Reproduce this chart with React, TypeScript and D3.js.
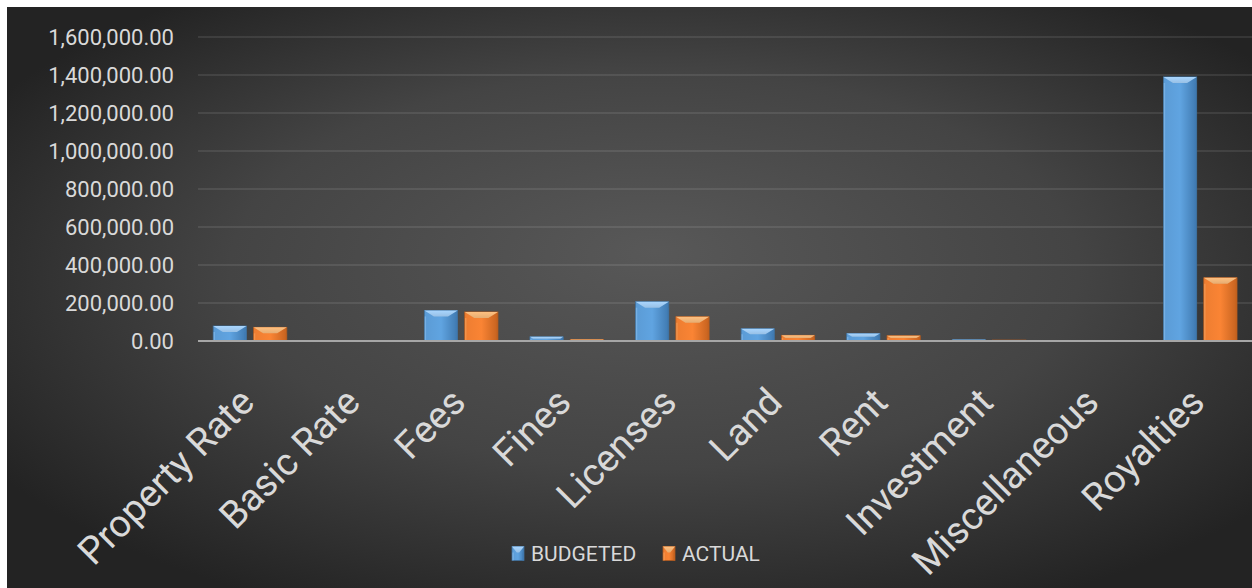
import React from "react";
import * as d3 from "d3";

const categories = ["Property Rate", "Basic Rate", "Fees", "Fines", "Licenses", "Land", "Rent", "Investment", "Miscellaneous", "Royalties"];
const seriesNames = ["BUDGETED", "ACTUAL"];
const budgeted = [79000, 3000, 161000, 22000, 207000, 65000, 40000, 7000, 0, 1390000];
const actual = [72000, 0, 153000, 8000, 128000, 30000, 28000, 5000, 0, 333000];
const yTicks = [0, 200000, 400000, 600000, 800000, 1000000, 1200000, 1400000, 1600000];

const W = 1252;
const H = 588;
const FONT = "Roboto, 'Open Sans', sans-serif";

const palette = [
  { base: "#5b9bd5", light: "#a9d6ff", dark: "#3f79b0", stroke: "#41719c" },
  { base: "#ed7d31", light: "#ffc080", dark: "#c5621f", stroke: "#ae5a21" },
];

function Bar({ x, y, w, h, c, id }: any) {
  if (h <= 0.2) return null;
  const bv = Math.min(6, h / 2.2);
  const inset = Math.min(bv * 1.6, w / 2.5);
  return (
    <g>
      <rect x={x} y={y} width={w} height={h} fill={`url(#side${id})`} stroke={c.stroke} strokeWidth={0.8} />
      <polygon
        points={`${x},${y} ${x + w},${y} ${x + w - inset},${y + bv} ${x + inset},${y + bv}`}
        fill={`url(#top${id})`}
      />
      <line x1={x + 1} x2={x + 1} y1={y + bv} y2={y + h} stroke={c.light} strokeOpacity={0.35} strokeWidth={1.5} />
      <line x1={x + w - 1} x2={x + w - 1} y1={y + bv} y2={y + h} stroke={c.dark} strokeOpacity={0.6} strokeWidth={1.5} />
    </g>
  );
}

export default function App() {
  const x0 = d3.scaleBand().domain(categories).range([197.2, 1253]).padding(0);
  const x1 = d3.scaleBand().domain(seriesNames).range([16, 89.6]).paddingInner(0.175).paddingOuter(0);
  const y = d3.scaleLinear().domain([0, 1600000]).range([341, 37]);
  const fmt = d3.format(",.2f");
  const values = [budgeted, actual];

  return (
    <svg width={W} height={H} style={{ position: "absolute", left: 0, top: 0, display: "block" }}>
      <defs>
        <radialGradient id="bg" cx="52%" cy="48%" r="62%" fx="52%" fy="42%">
          <stop offset="0%" stopColor="#585858" />
          <stop offset="55%" stopColor="#444444" />
          <stop offset="100%" stopColor="#232323" />
        </radialGradient>
        {palette.map((c, i) => (
          <React.Fragment key={i}>
            <linearGradient id={`side${i}`} x1="0" x2="1" y1="0" y2="0">
              <stop offset="0%" stopColor={c.base} />
              <stop offset="50%" stopColor={d3.color(c.base)!.brighter(0.15).toString()} />
              <stop offset="100%" stopColor={c.dark} />
            </linearGradient>
            <linearGradient id={`top${i}`} x1="0" x2="0" y1="0" y2="1">
              <stop offset="0%" stopColor={c.light} />
              <stop offset="100%" stopColor={d3.color(c.light)!.darker(0.3).toString()} />
            </linearGradient>
          </React.Fragment>
        ))}
      </defs>
      <rect x={0} y={0} width={W} height={H} fill="#ffffff" />
      <rect x={7} y={7} width={W - 7} height={H - 7} fill="url(#bg)" />

      {yTicks.map((t) => (
        <g key={t}>
          {t !== 0 && (
            <line x1={198} x2={W} y1={y(t)} y2={y(t)} stroke="#ffffff" strokeOpacity={0.12} strokeWidth={1.3} />
          )}
          <text
            x={174}
            y={y(t)}
            dy="0.36em"
            textAnchor="end"
            fontFamily={FONT}
            fontSize={22}
            fill="#d9d9d9"
          >
            {fmt(t)}
          </text>
        </g>
      ))}

      {categories.map((cat, ci) => (
        <g key={cat}>
          {seriesNames.map((s, si) => {
            const v = values[si][ci];
            const bx = (x0(cat) as number) + (x1(s) as number);
            return (
              <Bar key={s} x={bx} y={y(v)} w={x1.bandwidth()} h={y(0) - y(v)} c={palette[si]} id={si} />
            );
          })}
        </g>
      ))}

      <line x1={198} x2={W} y1={y(0)} y2={y(0)} stroke="#a6a6a6" strokeWidth={2} />

      {categories.map((cat) => {
        const cx = (x0(cat) as number) + x0.bandwidth() / 2;
        return (
          <text
            key={cat}
            transform={`translate(${cx - 13},${385}) rotate(-45)`}
            dy="0.72em"
            textAnchor="end"
            fontFamily={FONT}
            fontSize={38}
            fill="#d9d9d9"
          >
            {cat}
          </text>
        );
      })}

      {[
        { name: seriesNames[0], x: 512, c: palette[0], id: 0 },
        { name: seriesNames[1], x: 663, c: palette[1], id: 1 },
      ].map((l) => (
        <g key={l.name}>
          <Bar x={l.x} y={546.5} w={12} h={14} c={l.c} id={l.id} />
          <text x={l.x + 19} y={553.5} dy="0.36em" fontFamily={FONT} fontSize={21} fill="#d9d9d9">
            {l.name}
          </text>
        </g>
      ))}
    </svg>
  );
}
